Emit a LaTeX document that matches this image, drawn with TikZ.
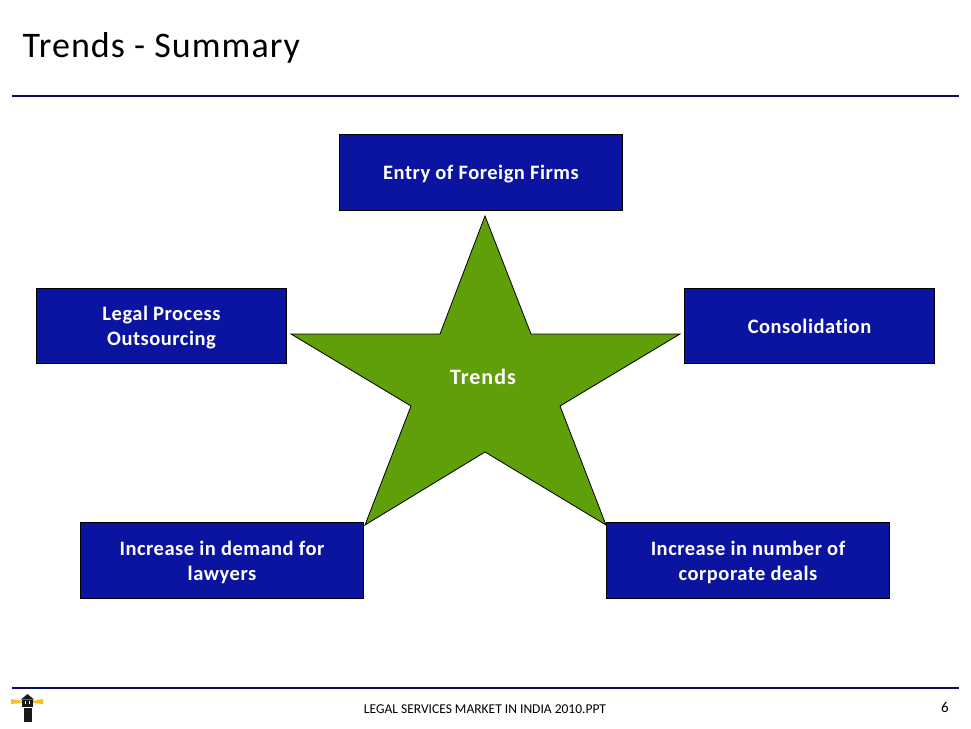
\documentclass[tikz,border=0pt]{standalone}
\usepackage{fontspec}
\setmainfont{Carlito}[Ligatures={NoCommon,NoRare}]
\usetikzlibrary{positioning}
\definecolor{boxblue}{RGB}{10,20,160}
\definecolor{rulenavy}{RGB}{15,15,90}
\definecolor{stargreen}{RGB}{95,160,10}
\definecolor{lampyellow}{RGB}{245,195,40}
\newcommand{\lowline}[1]{\raisebox{-2pt}[\height][\depth]{#1}}
\tikzstyle{every node}+=[inner sep=0.5mm]
\tikzstyle{trendbox}=[draw=black,fill=boxblue,text=white,font=\fontsize{20.5}{25}\selectfont\bfseries\addfontfeature{LetterSpace=2.5},align=center,minimum height=76,line width=0.8pt]
\tikzstyle{rule}=[draw=rulenavy,line width=1.6pt]

\begin{document}
\begin{tikzpicture}[x=1pt,y=-1pt]
\useasboundingbox (0,0) rectangle (971,728);

\node[anchor=west,font=\fontsize{36}{40}\selectfont\addfontfeature{LetterSpace=2.9}] (title) at (21,47.5) {Trends - Summary};
\coordinate (ruleA) at (12,96);
\coordinate (ruleB) at (959,96);
\draw[rule] (ruleA) -- (ruleB);

% star
\draw[fill=stargreen,draw=black,line width=0.8pt,line join=miter] (485,216) -- (531,334) -- (680,334) -- (560,406) -- (606,525) -- (485,452) -- (365,525) -- (411,406) -- (291,334) -- (440,334) -- cycle;
\node[text=white,font=\fontsize{22}{24}\selectfont\bfseries\addfontfeature{LetterSpace=4.5}] (trends) at (483,377) {Trends};

% boxes
\node[trendbox,minimum width=283] (entry) at (481,172.5) {\lowline{Entry of Foreign Firms}};
\node[trendbox,minimum width=250,minimum height=75] (legal) at (161.5,326) {\lowline{Legal Process}\\\lowline{Outsourcing}};
\node[trendbox,minimum width=250,minimum height=75] (consol) at (809.5,326) {Consolidation};
\node[trendbox,minimum width=283] (demand) at (222,560.5) {\lowline{Increase in demand for}\\\lowline{lawyers}};
\node[trendbox,minimum width=283] (deals) at (748,560.5) {\lowline{Increase in number of}\\\lowline{corporate deals}};

% footer
\coordinate (footA) at (12,688);
\coordinate (footB) at (959,688);
\draw[rule] (footA) -- (footB);
\node[font=\fontsize{13.5}{15}\selectfont] (foot) at (485,709) {LEGAL SERVICES MARKET IN INDIA 2010.PPT};
\node[font=\fontsize{15}{18}\selectfont] (page) at (945,707) {6};

% lighthouse
\fill[lampyellow] (11,699) -- (23,701) -- (23,703) -- (11,704) -- cycle;
\fill[lampyellow] (43,699) -- (32,701) -- (32,703) -- (43,704) -- cycle;
\fill[black!90] (27.5,694) -- (34,699.5) -- (21,699.5) -- cycle;
\fill[black!90] (21.5,700) rectangle (32.5,707);
\fill[white] (24.5,701) rectangle (26,704);
\fill[white] (28.5,701) rectangle (30,704);
\fill[black!90] (23.5,708) rectangle (31.5,722);
\end{tikzpicture}
\end{document}
